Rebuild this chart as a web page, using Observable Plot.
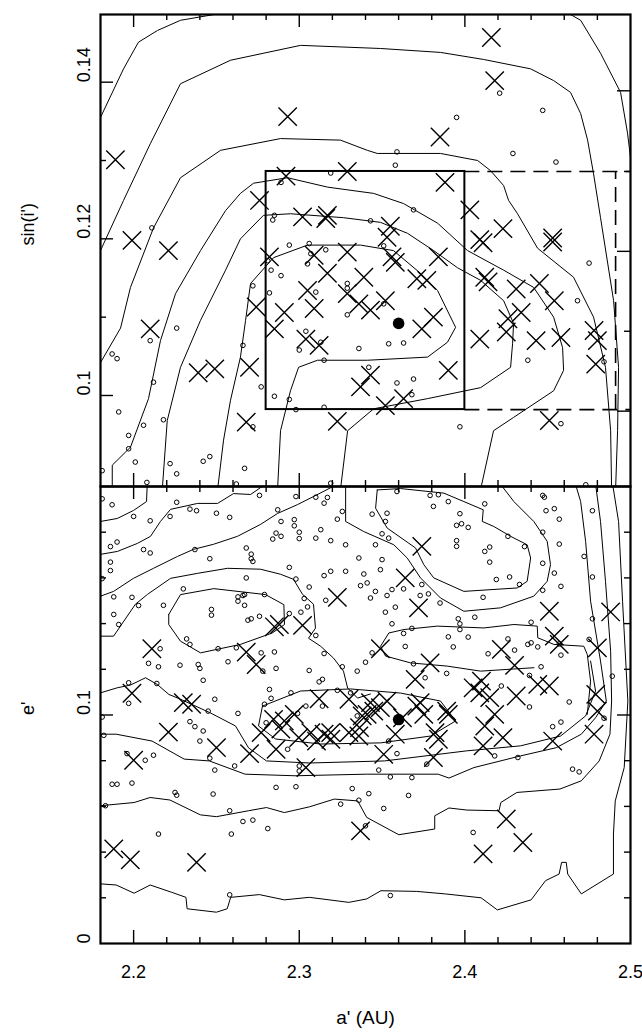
<!DOCTYPE html>
<html><head><meta charset="utf-8">
<script src="https://cdn.jsdelivr.net/npm/d3@7"></script>
<script src="https://cdn.jsdelivr.net/npm/@observablehq/plot@0.6"></script>
<style>
body{margin:0;background:#fff;}
#wrap{position:relative;width:642px;height:1034px;font-family:"Liberation Sans",Arial,sans-serif;}
#wrap svg{position:absolute;left:0;overflow:visible;}
</style></head><body><div id="wrap"></div>
<script>
// ---------- axes ----------
const xDomain = [2.18, 2.5];
const sDomain = [0.08838, 0.14864];
const eDomain = [0, 0.2];
const xLabelTicks = [2.2, 2.3, 2.4, 2.5];
const xMajorTicks = [2.2, 2.3, 2.4];
const xMinorTicks = [2.22,2.24,2.26,2.28,2.32,2.34,2.36,2.38,2.42,2.44,2.46,2.48];
const sLabelTicks = [0.10, 0.12, 0.14];
const sMinorTicks = [0.11, 0.13];
const sRightMajor = [0.0980, 0.1184, 0.1389];
const sRightMinor = [0.1082, 0.1286];
const eLabelTicks = [0, 0.1];
const eMajorTicks = [0.1];
const eMinorTicks = [0.02,0.04,0.06,0.08,0.12,0.14,0.16,0.18];

// ---------- boxes (top panel) ----------
const boxA = [2.28, 2.40];
const boxS = [0.0982, 0.1286];
const dashA = [2.40, 2.50];
const dashVertA = 2.491;

// ---------- top panel: sin(i') ----------
const topCrosses = [[2.189,0.1301],[2.199,0.1198],[2.221,0.1185],[2.210,0.1085],[2.293,0.1356],[2.239,0.1029],[2.249,0.1034],
[2.292,0.1280],[2.329,0.1286],[2.388,0.1272],[2.276,0.1249],[2.302,0.1228],[2.317,0.1230],[2.316,0.1226],[2.403,0.1237],[2.355,0.1216],[2.353,0.1202],[2.409,0.1199],[2.411,0.1195],[2.423,0.1213],[2.453,0.1201],[2.453,0.1196],[2.282,0.1177],[2.309,0.1179],[2.329,0.1183],[2.358,0.1170],[2.356,0.1177],[2.384,0.1177],[2.317,0.1156],[2.339,0.1151],[2.371,0.1149],[2.377,0.1147],[2.412,0.1151],[2.414,0.1145],[2.305,0.1134],[2.329,0.1130],[2.336,0.1117],[2.343,0.1109],[2.352,0.1121],[2.274,0.1113],[2.291,0.1106],[2.309,0.1111],[2.431,0.1136],[2.445,0.1143],[2.454,0.1121],[2.381,0.1100],[2.374,0.1085],[2.426,0.1098],[2.434,0.1106],[2.425,0.1081],[2.285,0.1085],[2.304,0.1072],[2.312,0.1064],[2.409,0.1072],[2.443,0.1070],[2.458,0.1074],[2.478,0.1083],[2.480,0.1070],[2.270,0.1036],[2.343,0.1026],[2.337,0.1011],[2.390,0.1032],[2.479,0.1040],[2.352,0.0987],[2.363,0.0996],[2.323,0.0967],[2.451,0.0968],[2.268,0.0966],[2.416,0.1457],[2.418,0.1402],[2.385,0.1330]];
const topCircles = [[2.210,0.1070],[2.226,0.1086],[2.187,0.1053],[2.190,0.1047],[2.212,0.1017],[2.191,0.0979],[2.206,0.0962],[2.197,0.0949],[2.218,0.0969],[2.201,0.0915],[2.222,0.0913],[2.226,0.0900],[2.181,0.0904],[2.208,0.0889],[2.211,0.1214],
[2.359,0.1311],[2.429,0.1309],[2.455,0.1298],[2.358,0.1294],[2.319,0.1284],[2.289,0.1272],[2.369,0.1237],[2.285,0.1230],[2.284,0.1224],[2.343,0.1223],[2.306,0.1194],[2.294,0.1192],[2.316,0.1186],[2.307,0.1181],[2.351,0.1191],[2.281,0.1172],[2.305,0.1168],[2.283,0.1160],[2.289,0.1153],[2.475,0.1169],[2.272,0.1140],[2.329,0.1143],[2.329,0.1137],[2.310,0.1132],[2.282,0.1131],[2.468,0.1121],[2.351,0.1117],[2.329,0.1103],[2.304,0.1082],[2.300,0.1058],[2.313,0.1068],[2.336,0.1060],[2.354,0.1066],[2.363,0.1067],[2.266,0.1064],[2.438,0.1045],[2.484,0.1043],[2.315,0.1045],[2.342,0.1036],[2.359,0.1016],[2.369,0.1021],[2.368,0.1001],[2.277,0.1011],[2.285,0.0999],[2.294,0.0995],[2.298,0.0982],[2.315,0.0985],[2.272,0.0960],[2.397,0.0960],[2.458,0.0964],
[2.421,0.1386],[2.395,0.1355],[2.447,0.1364],
[2.197,0.0932],[2.242,0.0916],[2.246,0.0922],[2.267,0.0907],[2.262,0.0887],[2.319,0.0888],[2.473,0.0886]];
const topFilled = [[2.360,0.1092]];

const topContour1 = [[2.1800,0.1355],[2.1939,0.1417],[2.2029,0.1451],[2.2144,0.1466],[2.2283,0.1479],[2.2585,0.1490]];
const topContour1b = [[2.4608,0.1490],[2.4699,0.1479],[2.4819,0.1437],[2.4940,0.1387],[2.4982,0.1335],[2.5010,0.1287]];
const topContour2 = [[2.18,0.1185],[2.1939,0.1249],[2.2102,0.1322],[2.2283,0.1398],[2.2585,0.1428],[2.3008,0.1447],[2.3491,0.1443],[2.3853,0.1438],[2.4113,0.1429],[2.4397,0.1417],[2.4536,0.1402],[2.4638,0.1387],[2.4699,0.1360],[2.4741,0.1326],[2.4777,0.1283],[2.4819,0.1227],[2.4898,0.1121],[2.4928,0.1036],[2.4922,0.0955],[2.4910,0.0880]];
const topContour3 = [[2.18,0.1042],[2.1921,0.1086],[2.1981,0.1138],[2.2120,0.1214],[2.2283,0.1278],[2.2525,0.1313],[2.2887,0.1328],[2.3249,0.1326],[2.3411,0.1313],[2.3471,0.1309],[2.3853,0.1309],[2.4077,0.1300],[2.4155,0.1287],[2.4234,0.1268],[2.4264,0.1249],[2.4318,0.1232],[2.4439,0.1188],[2.4656,0.1151],[2.4777,0.1100],[2.4849,0.1036],[2.4880,0.0955],[2.4886,0.0880]];
const topContour4 = [[2.1871,0.0880],[2.1871,0.0911],[2.1981,0.0934],[2.2090,0.0996],[2.2162,0.1070],[2.2253,0.1130],[2.2404,0.1185],[2.2555,0.1236],[2.2645,0.1258],[2.2724,0.1271],[2.2929,0.1278],[2.3171,0.1266],[2.3449,0.1258],[2.3630,0.1245],[2.3835,0.1220],[2.4016,0.1185],[2.4234,0.1160],[2.4415,0.1138],[2.4536,0.1100],[2.4590,0.1061],[2.4596,0.1032],[2.4536,0.1006],[2.4294,0.0972],[2.4173,0.0955],[2.4095,0.0880]];
const topContour5 = [[2.2173,0.0880],[2.2203,0.0968],[2.2283,0.1036],[2.2404,0.1096],[2.2555,0.1160],[2.2645,0.1200],[2.2784,0.1230],[2.2947,0.1232],[2.3267,0.1227],[2.3491,0.1221],[2.3654,0.1207],[2.3811,0.1185],[2.3956,0.1163],[2.4095,0.1147],[2.4234,0.1121],[2.4294,0.1092],[2.4288,0.1066],[2.4276,0.1036],[2.4095,0.1010],[2.3775,0.0996],[2.3449,0.0983],[2.3292,0.0955],[2.3249,0.0880]];
const topContour6 = [[2.2507,0.0880],[2.2543,0.0943],[2.2585,0.0994],[2.2645,0.1049],[2.2676,0.1096],[2.2706,0.1143],[2.2845,0.1176],[2.3050,0.1192],[2.3370,0.1192],[2.3569,0.1185],[2.3732,0.1156],[2.3835,0.1134],[2.3944,0.1087],[2.3895,0.1068],[2.3775,0.1049],[2.3412,0.1045],[2.3110,0.1045],[2.2996,0.1036],[2.2947,0.1006],[2.2887,0.0955],[2.2869,0.0880]];

// ---------- bottom panel: e' ----------
const botCrosses = [[2.323,0.1515],[2.211,0.1290],[2.285,0.1386],[2.288,0.1396],[2.302,0.1392],[2.268,0.1275],[2.274,0.1221],[2.199,0.1095],[2.230,0.1054],[2.235,0.1047],[2.312,0.1071],[2.343,0.1054],[2.341,0.1003],[2.330,0.1069],[2.349,0.1290],
[2.374,0.1738],[2.364,0.1600],[2.372,0.1469],[2.451,0.1454],[2.488,0.1451],[2.454,0.1345],[2.457,0.1309],[2.480,0.1294],[2.422,0.1287],[2.430,0.1217],[2.379,0.1228],[2.370,0.1156],[2.410,0.1148],[2.405,0.1119],[2.409,0.1097],[2.415,0.1076],[2.444,0.1134],[2.451,0.1127],[2.431,0.1083],[2.349,0.1032],[2.373,0.1054],[2.389,0.1017],[2.479,0.1090],[2.480,0.1017],[2.353,0.1061],
[2.188,0.0414],[2.198,0.0366],[2.238,0.0355],[2.200,0.0802],[2.221,0.0925],[2.250,0.0857],[2.270,0.0831],[2.277,0.0923],[2.286,0.0850],[2.291,0.0974],[2.304,0.0770],[2.297,0.1003],[2.307,0.0923],[2.315,0.0916],[2.319,0.0923],[2.330,0.0923],[2.336,0.0908],[2.338,0.0996],[2.351,0.0828],[2.358,0.0916],[2.371,0.1039],[2.381,0.0814],[2.382,0.0923],[2.384,0.0894],[2.390,0.1003],[2.411,0.0865],[2.412,0.0952],[2.423,0.0901],[2.418,0.1003],[2.453,0.0886],[2.478,0.0916],[2.425,0.0545],[2.435,0.0442],[2.411,0.0392],[2.337,0.0493],
[2.2845,0.0981],[2.2889,0.0938],[2.2997,0.0901],[2.3104,0.0886],[2.3191,0.0894],[2.3364,0.0945],[2.3450,0.1017],[2.3623,0.0988],[2.3752,0.1003]];
const botCircles = [[2.187,0.1920],[2.181,0.1946],[2.226,0.1931],[2.200,0.1869],[2.210,0.1850],[2.222,0.1869],[2.234,0.1901],[2.238,0.1894],[2.250,0.1883],[2.258,0.1865],[2.276,0.1961],[2.298,0.1956],[2.287,0.1898],[2.310,0.1953],[2.317,0.1952],[2.315,0.1927],[2.289,0.1847],[2.297,0.1855],[2.297,0.1828],[2.300,0.1800],[2.300,0.1772],[2.286,0.1796],[2.289,0.1782],[2.284,0.1770],[2.313,0.1811],[2.310,0.1774],[2.319,0.1763],[2.326,0.1891],[2.323,0.1857],[2.328,0.1745],[2.344,0.1879],[2.346,0.1745],[2.186,0.1737],[2.190,0.1757],[2.206,0.1724],[2.210,0.1709],[2.237,0.1724],[2.246,0.1684],[2.268,0.1731],[2.271,0.1704],[2.271,0.1684],[2.272,0.1672],[2.186,0.1669],[2.186,0.1632],[2.181,0.1597],[2.294,0.1646],[2.268,0.1600],[2.298,0.1595],[2.319,0.1629],[2.315,0.1610],[2.328,0.1629],[2.336,0.1687],[2.339,0.1617],[2.337,0.1566],[2.341,0.1578],[2.346,0.1541],[2.343,0.1512],[2.306,0.1560],[2.316,0.1502],[2.230,0.1552],[2.188,0.1517],[2.199,0.1515],[2.263,0.1517],[2.266,0.1523],[2.267,0.1527],[2.263,0.1498],[2.267,0.1480],[2.279,0.1527],[2.303,0.1510],[2.305,0.1473],[2.301,0.1450],[2.203,0.1479],[2.218,0.1480],[2.247,0.1462],[2.247,0.1437],[2.188,0.1440],[2.191,0.1396],[2.269,0.1415],[2.271,0.1421],[2.276,0.1432],[2.294,0.1444],[2.310,0.1348],[2.232,0.1333],[2.234,0.1309],[2.216,0.1290],[2.251,0.1290],[2.257,0.1233],[2.262,0.1294],[2.277,0.1272],[2.285,0.1276],[2.315,0.1269],[2.209,0.1226],[2.215,0.1211],[2.228,0.1218],[2.239,0.1221],[2.240,0.1204],[2.286,0.1204],[2.278,0.1192],[2.306,0.1195],[2.312,0.1145],[2.314,0.1156],[2.326,0.1211],[2.335,0.1192],[2.340,0.1231],[2.344,0.1272],[2.197,0.1141],[2.197,0.1051],[2.214,0.1138],[2.242,0.1152],[2.249,0.1069],[2.245,0.1017],[2.263,0.1007],[2.282,0.1112],[2.283,0.1073],[2.295,0.1097],[2.279,0.1047],[2.323,0.1108],[2.331,0.1097],
[2.359,0.1978],[2.379,0.1961],[2.384,0.1964],[2.390,0.1934],[2.381,0.1913],[2.397,0.1881],[2.412,0.1924],[2.353,0.1883],[2.352,0.1847],[2.395,0.1830],[2.398,0.1837],[2.402,0.1821],[2.395,0.1763],[2.395,0.1738],[2.412,0.1716],[2.415,0.1735],[2.415,0.1669],[2.426,0.1782],[2.436,0.1737],[2.427,0.1604],[2.419,0.1593],[2.433,0.1571],[2.411,0.1515],[2.447,0.1800],[2.449,0.1894],[2.454,0.1903],[2.448,0.1953],[2.447,0.1961],[2.457,0.1857],[2.457,0.1748],[2.447,0.1664],[2.454,0.1621],[2.458,0.1563],[2.447,0.1546],[2.472,0.1694],[2.477,0.1894],[2.477,0.1604],[2.354,0.1774],[2.350,0.1793],[2.350,0.1680],[2.349,0.1636],[2.363,0.1552],[2.356,0.1549],[2.353,0.1523],[2.374,0.1571],[2.373,0.1523],[2.378,0.1530],[2.385,0.1490],[2.358,0.1472],[2.352,0.1450],[2.356,0.1399],[2.396,0.1421],[2.397,0.1399],[2.406,0.1428],[2.397,0.1374],[2.390,0.1342],[2.402,0.1341],[2.393,0.1298],[2.364,0.1300],[2.368,0.1379],[2.363,0.1357],[2.369,0.1224],[2.389,0.1182],[2.376,0.1163],[2.414,0.1268],[2.426,0.1333],[2.430,0.1284],[2.438,0.1309],[2.440,0.1316],[2.444,0.1298],[2.440,0.1406],[2.477,0.1421],[2.457,0.1311],[2.458,0.1262],[2.446,0.1211],[2.439,0.1173],[2.422,0.1127],[2.439,0.1035],[2.463,0.1057],[2.489,0.1170],[2.484,0.0986],[2.453,0.0949],[2.458,0.0969],[2.475,0.1331],
[2.182,0.0911],[2.234,0.0971],[2.237,0.0949],[2.242,0.0930],[2.240,0.0886],[2.196,0.0831],[2.207,0.0802],[2.212,0.0824],[2.246,0.0811],[2.249,0.0759],[2.261,0.0777],[2.187,0.0697],[2.190,0.0697],[2.199,0.0702],[2.225,0.0661],[2.226,0.0649],[2.248,0.0654],[2.183,0.0603],[2.258,0.0581],[2.266,0.0534],[2.272,0.0540],[2.281,0.0503],[2.259,0.0479],[2.215,0.0479],[2.286,0.0683],[2.298,0.0686],[2.300,0.0777],[2.300,0.0755],[2.299,0.1007],[2.304,0.1039],[2.293,0.0850],[2.280,0.0966],[2.332,0.0678],[2.336,0.0627],[2.342,0.0656],[2.325,0.0610],[2.351,0.0591],[2.366,0.0648],[2.348,0.0759],[2.355,0.0729],[2.368,0.0726],[2.359,0.0831],[2.354,0.0886],[2.335,0.0996],[2.377,0.0785],[2.405,0.0486],[2.340,0.0515],[2.418,0.0821],[2.432,0.0814],[2.465,0.0763],[2.469,0.0751],[2.258,0.0213],[2.355,0.0210],[2.314,0.1039],[2.181,0.0991]];
const botFilled = [[2.360,0.0980]];

const botContour1 = [[2.18,0.1847],[2.1901,0.1860],[2.1999,0.1895],[2.2078,0.1934],[2.2082,0.2010]];
const botContour2 = [[2.18,0.1703],[2.1903,0.1716],[2.2023,0.1751],[2.2102,0.1782],[2.2162,0.1847],[2.2223,0.1900],[2.2386,0.1926],[2.2507,0.1926],[2.2603,0.1969],[2.2706,0.1965],[2.2796,0.2010]];
const botContour3 = [[2.18,0.1520],[2.1879,0.1541],[2.1999,0.1598],[2.2120,0.1642],[2.2265,0.1694],[2.2362,0.1725],[2.2482,0.1747],[2.2627,0.1782],[2.2766,0.1834],[2.2869,0.1882],[2.2990,0.1921],[2.3086,0.1956],[2.3231,0.2010]];
const botContourLeftLobe = [[2.2212,0.1440],[2.2283,0.1527],[2.2484,0.1553],[2.2796,0.1527],[2.2907,0.1483],[2.2911,0.1396],[2.2837,0.1359],[2.2645,0.1309],[2.2404,0.1272],[2.2283,0.1323],[2.2212,0.1396],[2.2212,0.1440]];
const botContour4 = [[2.18,0.1345],[2.1879,0.1345],[2.2011,0.1485],[2.2084,0.1528],[2.2223,0.1598],[2.2386,0.1620],[2.2567,0.1642],[2.2766,0.1638],[2.2887,0.1616],[2.2965,0.1594],[2.3020,0.1528],[2.3086,0.1485],[2.3098,0.1380],[2.3056,0.1336],[2.3129,0.1301],[2.3207,0.1249],[2.3267,0.1192],[2.3292,0.1118],[2.3352,0.1074],[2.3430,0.1092]];
const botContour5 = [[2.18,0.1097],[2.1901,0.1119],[2.1981,0.1131],[2.2072,0.1163],[2.2142,0.1134],[2.2213,0.1090],[2.2283,0.1069],[2.2464,0.1009],[2.2615,0.0952],[2.2694,0.0856],[2.2802,0.0799],[2.3062,0.0790],[2.3515,0.0799],[2.4010,0.0843],[2.4336,0.0865],[2.4578,0.0908],[2.4729,0.0996],[2.4789,0.1105],[2.4759,0.1236]];
const botContourCenter = [[2.2778,0.1039],[2.3008,0.1105],[2.3310,0.1114],[2.3612,0.1096],[2.3853,0.1061],[2.3944,0.0974],[2.3793,0.0908],[2.3491,0.0878],[2.3129,0.0873],[2.2857,0.0895],[2.2754,0.0952],[2.2778,0.1039]];
const botContour6 = [[2.18,0.0916],[2.1895,0.0916],[2.2111,0.0886],[2.2305,0.0807],[2.2457,0.0799],[2.2673,0.0741],[2.2975,0.0734],[2.3407,0.0741],[2.3839,0.0741],[2.3904,0.0724],[2.4055,0.0770],[2.4336,0.0821],[2.4552,0.0857],[2.4703,0.0916],[2.4789,0.0988],[2.4854,0.1061],[2.4819,0.1236],[2.4759,0.1498],[2.4729,0.1760],[2.4699,0.1934],[2.4668,0.2010]];
const botContour7 = [[2.18,0.0603],[2.2003,0.0617],[2.2100,0.0639],[2.2219,0.0628],[2.2403,0.0563],[2.2500,0.0555],[2.2694,0.0581],[2.2802,0.0595],[2.2910,0.0573],[2.3061,0.0598],[2.3212,0.0632],[2.3353,0.0624],[2.3407,0.0552],[2.3601,0.0476],[2.3818,0.0501],[2.3818,0.0559],[2.3904,0.0593],[2.4012,0.0584],[2.4206,0.0581],[2.4217,0.0617],[2.4314,0.0661],[2.4574,0.0676],[2.4703,0.0712],[2.4811,0.0799],[2.4876,0.0916],[2.4886,0.1061],[2.4880,0.1279],[2.4849,0.1585],[2.4819,0.1847],[2.4789,0.2010]];
const botContour8 = [[2.18,0.0261],[2.1895,0.0256],[2.2003,0.0220],[2.2100,0.0256],[2.2230,0.0224],[2.2316,0.0202],[2.2323,0.0152],[2.2500,0.0137],[2.2565,0.0152],[2.2586,0.0202],[2.2759,0.0214],[2.2910,0.0191],[2.3061,0.0202],[2.3299,0.0180],[2.3407,0.0195],[2.3493,0.0231],[2.3709,0.0228],[2.3882,0.0217],[2.4098,0.0200],[2.4196,0.0147],[2.4400,0.0191],[2.4487,0.0275],[2.4569,0.0304],[2.4584,0.0355],[2.4612,0.0355],[2.4621,0.0304],[2.4703,0.0217],[2.4897,0.0304],[2.4897,0.0479],[2.4908,0.0624],[2.4962,0.0770],[2.4984,0.1061],[2.4952,0.1498],[2.4928,0.1847],[2.4892,0.2010]];
const botContourRight1 = [[2.3471,0.1985],[2.3461,0.1905],[2.3531,0.1818],[2.3702,0.1731],[2.3752,0.1658],[2.3812,0.1600],[2.3994,0.1541],[2.4316,0.1556],[2.4376,0.1585],[2.4397,0.1687],[2.4376,0.1745],[2.4276,0.1782],[2.4175,0.1825],[2.4105,0.1847],[2.4111,0.1898],[2.3994,0.1934],[2.3873,0.1971],[2.3612,0.1991],[2.3471,0.1985]];
const botContourRight2 = [[2.3280,0.2010],[2.3280,0.1847],[2.3389,0.1803],[2.3571,0.1745],[2.3652,0.1687],[2.3732,0.1600],[2.3853,0.1512],[2.3994,0.1454],[2.4215,0.1469],[2.4416,0.1520],[2.4497,0.1585],[2.4517,0.1658],[2.4497,0.1760],[2.4416,0.1847],[2.4296,0.1934],[2.4215,0.2010]];
const botContourRight3 = [[2.4739,0.1003],[2.4759,0.1148],[2.4739,0.1265],[2.4718,0.1301],[2.4537,0.1309],[2.4440,0.1338],[2.4437,0.1389],[2.4296,0.1396],[2.4115,0.1381],[2.3833,0.1389],[2.3632,0.1374],[2.3541,0.1359],[2.3491,0.1301],[2.3521,0.1258],[2.3672,0.1228],[2.3893,0.1214],[2.4095,0.1192],[2.4417,0.1207]];

const topContours = [topContour1, topContour1b, topContour2, topContour3, topContour4, topContour5, topContour6];
const botContours = [botContour1, botContour2, botContour3, botContourLeftLobe, botContour4, botContour5, botContourCenter, botContour6, botContour7, botContour8, botContourRight1, botContourRight2, botContourRight3];

// ---------- layout ----------
const W = 642, ML = 100, MR = 12;
const FW = W - ML - MR;
const font = "Liberation Sans, Arial, sans-serif";

function frameTicks(FH, yMajorL, yMinorL, yMajorR, yMinorR) {
  const tk = {stroke: "black", strokeWidth: 1.4};
  return [
    Plot.tickX(xMajorTicks, {...tk, insetTop: FH - 13}),
    Plot.tickX(xMinorTicks, {...tk, insetTop: FH - 6}),
    Plot.tickX(xMajorTicks, {...tk, insetBottom: FH - 13}),
    Plot.tickX(xMinorTicks, {...tk, insetBottom: FH - 6}),
    Plot.tickY(yMajorL, {...tk, insetRight: FW - 13}),
    Plot.tickY(yMinorL, {...tk, insetRight: FW - 6}),
    Plot.tickY(yMajorR, {...tk, insetLeft: FW - 13}),
    Plot.tickY(yMinorR, {...tk, insetLeft: FW - 6})
  ];
}
function markers(crosses, circles, filled, contours) {
  return [
    ...contours.map(c => Plot.line(c, {x: d => d[0], y: d => d[1], stroke: "black", strokeWidth: 1, clip: true})),
    Plot.dot(circles, {x: d => d[0], y: d => d[1], r: 2.3, stroke: "black", strokeWidth: 1, fill: "none", clip: true}),
    Plot.dot(crosses, {x: d => d[0], y: d => d[1], symbol: "times", r: 8.4, stroke: "black", strokeWidth: 1.4, clip: true}),
    Plot.dot(filled, {x: d => d[0], y: d => d[1], r: 5.8, fill: "black", stroke: "none"})
  ];
}

// top panel
const topFH = 472;
const topPlot = Plot.plot({
  width: W, height: 496, marginLeft: ML, marginRight: MR, marginTop: 14, marginBottom: 10,
  style: {fontFamily: font, background: "transparent"},
  x: {domain: xDomain, axis: null},
  y: {domain: sDomain, axis: null},
  marks: [
    ...markers(topCrosses, topCircles, topFilled, topContours),
    Plot.rect([0], {x1: () => boxA[0], x2: () => boxA[1], y1: () => boxS[0], y2: () => boxS[1], fill: "none", stroke: "black", strokeWidth: 2}),
    Plot.ruleY(boxS, {x1: dashA[0], x2: dashA[1], stroke: "black", strokeWidth: 1.6, strokeDasharray: "15,8"}),
    Plot.ruleX([dashVertA], {y1: boxS[0], y2: boxS[1], stroke: "black", strokeWidth: 1.6, strokeDasharray: "15,8"}),
    ...frameTicks(topFH, sLabelTicks, sMinorTicks, sRightMajor, sRightMinor),
    Plot.frame({stroke: "black", strokeWidth: 2.2}),
    Plot.text(sLabelTicks, {y: d => d, text: d => String(d), frameAnchor: "left", dx: -16, rotate: -90, fontSize: 18, fill: "black"}),
    Plot.text(["sin(i')"], {frameAnchor: "left", dx: -72, dy: -5, rotate: -90, fontSize: 18, fill: "black"})
  ]
});
topPlot.style.top = "0px";

// bottom panel
const botFH = 457;
const botPlot = Plot.plot({
  width: W, height: 558, marginLeft: ML, marginRight: MR, marginTop: 10, marginBottom: 91,
  style: {fontFamily: font, background: "transparent"},
  x: {domain: xDomain, axis: null},
  y: {domain: eDomain, axis: null},
  marks: [
    ...markers(botCrosses, botCircles, botFilled, botContours),
    ...frameTicks(botFH, eMajorTicks, eMinorTicks, eMajorTicks, eMinorTicks),
    Plot.frame({stroke: "black", strokeWidth: 2.2}),
    Plot.text(eLabelTicks, {y: d => d, text: d => String(d), frameAnchor: "left", dx: -16, rotate: -90, fontSize: 18, fill: "black"}),
    Plot.text(xLabelTicks, {x: d => d, text: d => String(d), frameAnchor: "bottom", dy: 34, fontSize: 18, fill: "black"}),
    Plot.text(["e'"], {frameAnchor: "left", dx: -72, rotate: -90, fontSize: 18, fill: "black"}),
    Plot.text(["a' (AU)"], {frameAnchor: "bottom", dy: 80, fontSize: 19, fill: "black"})
  ]
});
botPlot.style.top = "476px";

const wrap = document.getElementById("wrap");
wrap.appendChild(topPlot);
wrap.appendChild(botPlot);
</script>
</body></html>
